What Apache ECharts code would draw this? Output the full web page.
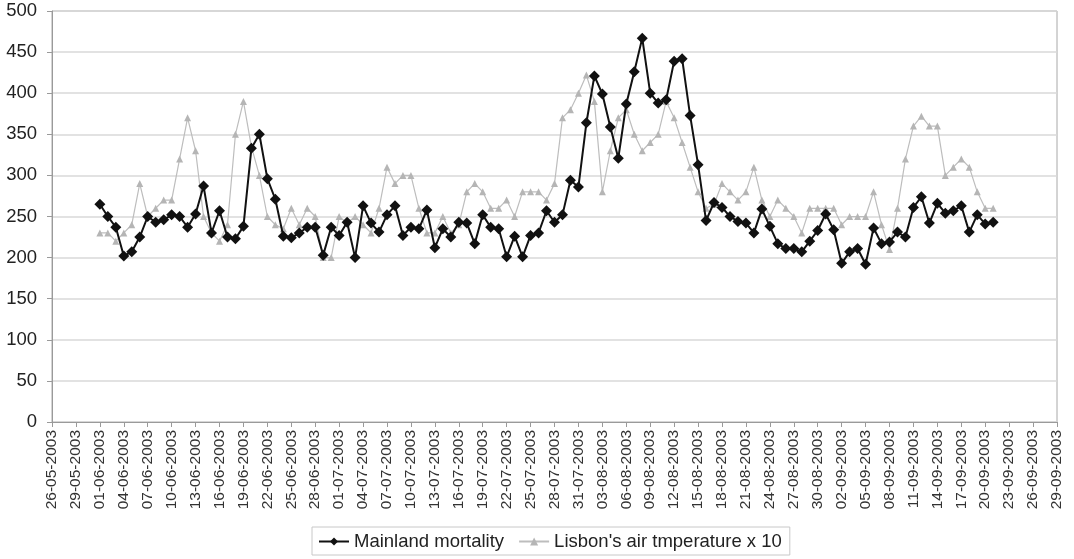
<!DOCTYPE html>
<html>
<head>
<meta charset="utf-8">
<script src="https://cdn.jsdelivr.net/npm/echarts@6/dist/echarts.min.js"></script>
<style>
html,body{margin:0;padding:0;background:#fff;}
#chart{width:1074px;height:559px;}
</style>
</head>
<body>
<div id="chart"></div>
<script>
// Axis range (category axis of daily dates)
const axisStart = [2003, 5, 26];   // 26-05-2003
const axisDays = 127;              // through 29-09-2003
const dataStartIndex = 6;          // 01-06-2003

const yTicks = {min: 0, max: 500, interval: 50};

const seriesNames = ["Mainland mortality", "Lisbon's air tmperature x 10"];

// Mainland mortality, 01-06-2003 .. 21-09-2003
const mortalityJune = [265,250,237,202,207,225,250,243,246,252,250,237,253,287,230,257,225,223,238,333,350,296,271,226,224,230,237,237,203,237];
const mortalityJuly = [227,243,200,263,242,231,252,263,227,237,235,258,212,235,225,243,242,217,252,237,235,201,226,201,227,230,257,243,252,294,286];
const mortalityAug  = [364,421,399,359,321,387,426,467,400,388,392,439,442,373,313,245,267,261,250,244,242,230,259,238,217,211,211,207,220,233,253];
const mortalitySep  = [234,193,207,211,192,236,217,219,231,225,261,274,242,266,254,257,263,231,252,241,243];

// Lisbon's air temperature x 10, 01-06-2003 .. 21-09-2003
const tempJune = [230,230,220,230,240,290,250,260,270,270,320,370,330,250,230,220,240,350,390,335,300,250,240,235,260,240,260,250,200,200];
const tempJuly = [250,242,250,240,230,260,310,290,300,300,260,230,230,250,230,240,280,290,280,260,260,270,250,280,280,280,270,290,370,380,400];
const tempAug  = [422,390,280,330,370,380,350,330,340,350,390,370,340,310,280,260,265,290,280,270,280,310,270,250,270,260,250,230,260,260,260];
const tempSep  = [260,240,250,250,250,280,240,210,260,320,360,372,360,360,300,310,320,310,280,260,260];

function pad(n){return (n<10?'0':'')+n;}
const categories = [];
(function(){
  const d = new Date(Date.UTC(axisStart[0], axisStart[1]-1, axisStart[2]));
  for (let i=0;i<axisDays;i++){
    categories.push(pad(d.getUTCDate())+'-'+pad(d.getUTCMonth()+1)+'-'+d.getUTCFullYear());
    d.setUTCDate(d.getUTCDate()+1);
  }
})();

function place(values){
  const out = new Array(axisDays).fill(null);
  values.forEach((v,i)=>{ out[dataStartIndex+i]=v; });
  return out;
}
const mortality = place([].concat(mortalityJune, mortalityJuly, mortalityAug, mortalitySep));
const temperature = place([].concat(tempJune, tempJuly, tempAug, tempSep));

const FONT = 'Liberation Sans, Arial, sans-serif';
const chart = echarts.init(document.getElementById('chart'), null, {renderer:'canvas'});
chart.setOption({
  animation:false,
  backgroundColor:'#ffffff',
  textStyle:{fontFamily:FONT},
  grid:{left:52,right:17,top:11,bottom:137,show:true,borderColor:'#a8a8a8',borderWidth:1,containLabel:false},
  legend:{
    data:[seriesNames[0], seriesNames[1]],
    left:312, top:527,
    padding:[5,8,4,6],
    itemGap:14,
    itemWidth:30,
    itemHeight:10,
    borderColor:'#c8c8c8',
    borderWidth:1,
    textStyle:{fontSize:18.5,color:'#222',fontFamily:FONT}
  },
  xAxis:{
    type:'category',
    data:categories,
    boundaryGap:false,
    axisLine:{lineStyle:{color:'#9a9a9a',width:1}},
    axisTick:{interval:2,length:5,lineStyle:{color:'#9a9a9a'}},
    axisLabel:{interval:2,rotate:90,fontSize:15.5,color:'#333',margin:8,fontFamily:FONT},
    splitLine:{show:false}
  },
  yAxis:{
    type:'value',
    min:yTicks.min,max:yTicks.max,interval:yTicks.interval,
    axisLine:{show:true,lineStyle:{color:'#9a9a9a',width:1}},
    axisTick:{show:true,length:5,lineStyle:{color:'#9a9a9a'}},
    axisLabel:{fontSize:18.5,color:'#222',margin:15,fontFamily:FONT},
    splitLine:{lineStyle:{color:'#d8d8d8',width:1.5}}
  },
  series:[
    {
      name:seriesNames[1],
      type:'line',
      data:temperature,
      z:2,
      symbol:'triangle',
      symbolSize:7,
      showSymbol:true,
      showAllSymbol:true,
      connectNulls:false,
      lineStyle:{color:'#bdbdbd',width:1.2},
      itemStyle:{color:'#b5b5b5'}
    },
    {
      name:seriesNames[0],
      type:'line',
      data:mortality,
      z:3,
      symbol:'diamond',
      symbolSize:11,
      showSymbol:true,
      showAllSymbol:true,
      lineStyle:{color:'#111',width:2},
      itemStyle:{color:'#111'}
    }
  ]
});
</script>
</body>
</html>
